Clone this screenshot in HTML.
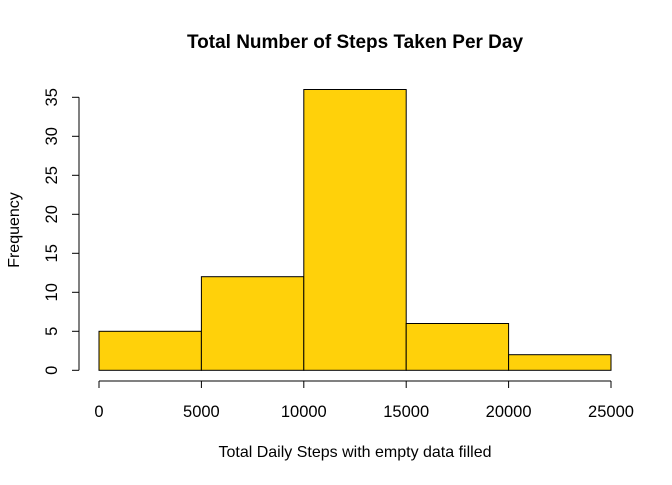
<!DOCTYPE html>
<html><head><meta charset="utf-8"><style>
body{margin:0;background:#fff;}
svg text{font-family:"Liberation Sans",Arial,sans-serif;fill:#000;}
</style></head><body>
<svg width="672" height="480">
<text x="355" y="48" text-anchor="middle" font-size="19" font-weight="bold">Total Number of Steps Taken Per Day</text>
<g id="bars"></g>
<g id="xaxis"></g>
<g id="yaxis"></g>
<text x="355" y="457" text-anchor="middle" font-size="16">Total Daily Steps with empty data filled</text>
<text transform="translate(19,230) rotate(-90)" text-anchor="middle" font-size="16">Frequency</text>
</svg>
<script>
const breaks=[0,5000,10000,15000,20000,25000];
const counts=[5,12,36,6,2];
const xTicks=[0,5000,10000,15000,20000,25000];
const yTicks=[0,5,10,15,20,25,30,35];
const NS="http://www.w3.org/2000/svg";
const X=v=>99+(v-0)*(512/25000);
const Y=v=>370.3-v*7.8;
function mk(t,a,p){const e=document.createElementNS(NS,t);for(const k in a)e.setAttribute(k,a[k]);p.appendChild(e);return e;}
const bars=document.getElementById('bars');
counts.forEach((c,i)=>{
 const r=mk('rect',{x:X(breaks[i]),y:Y(c),width:X(breaks[i+1])-X(breaks[i]),height:Y(0)-Y(c),fill:'#FFD10A',stroke:'#000','stroke-width':1},bars);
 
 
});
const xa=document.getElementById('xaxis');
mk('line',{x1:X(xTicks[0]),x2:X(xTicks[xTicks.length-1]),y1:381,y2:381,stroke:'#000'},xa);
xTicks.forEach(t=>{
 mk('line',{x1:X(t),x2:X(t),y1:381,y2:388,stroke:'#000'},xa);
 const tx=mk('text',{x:X(t),y:417,'text-anchor':'middle','font-size':16.5},xa);tx.textContent=t;
 
 
});
const ya=document.getElementById('yaxis');
mk('line',{x1:79,x2:79,y1:Y(yTicks[0]),y2:Y(yTicks[yTicks.length-1]),stroke:'#000'},ya);
yTicks.forEach(t=>{
 mk('line',{x1:72,x2:79,y1:Y(t),y2:Y(t),stroke:'#000'},ya);
 const tx=mk('text',{transform:`translate(57,${Y(t)}) rotate(-90)`,'text-anchor':'middle','font-size':16.5},ya);tx.textContent=t;
 
 
});
</script>
</body></html>
